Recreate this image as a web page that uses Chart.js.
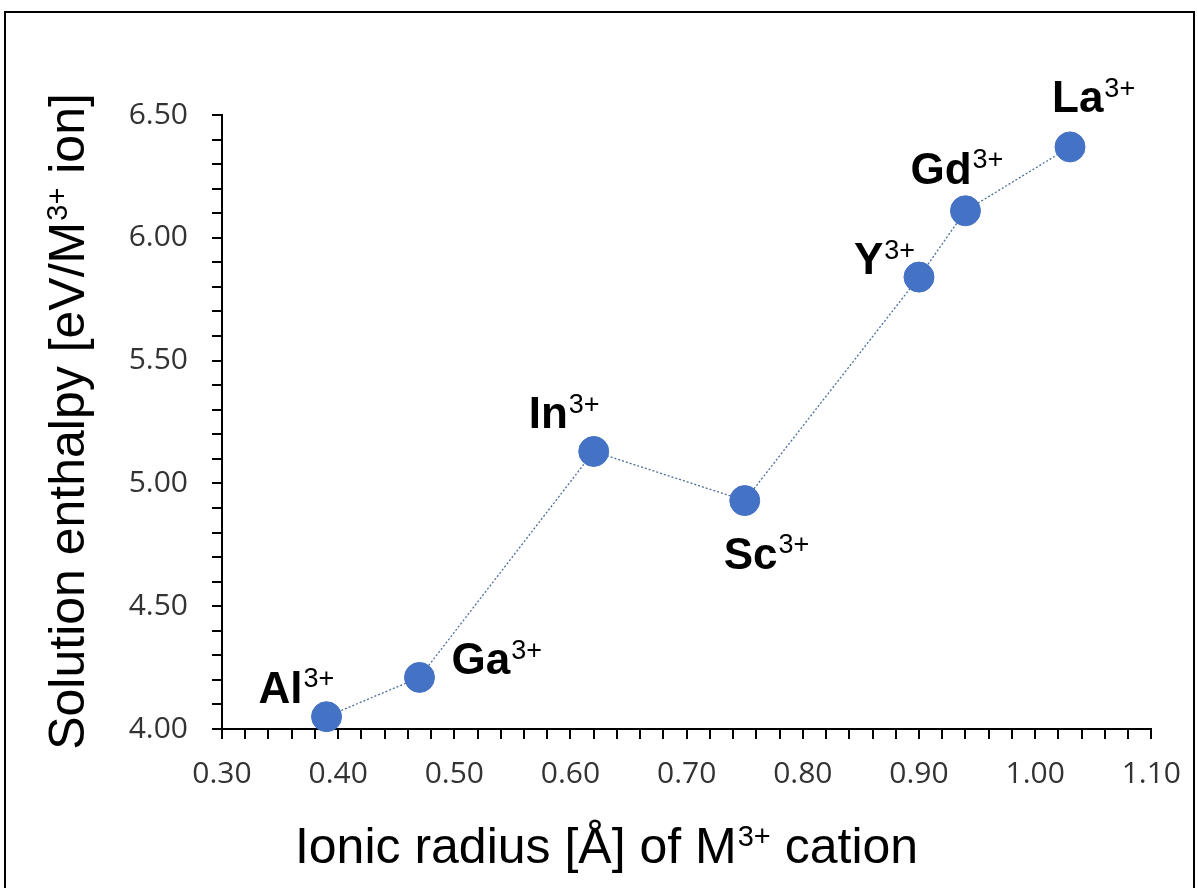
<!DOCTYPE html>
<html>
<head>
<meta charset="utf-8">
<script src="https://cdn.jsdelivr.net/npm/chart.js@4/dist/chart.umd.min.js"></script>
<style>
  html, body { margin: 0; padding: 0; background: #fff; }
  #wrap { width: 1198px; height: 888px; }
</style>
</head>
<body>
<div id="wrap"><canvas id="chart" width="1198" height="888"></canvas></div>
<script>
// data
const ions = ["Al", "Ga", "In", "Sc", "Y", "Gd", "La"];
const ionicRadius = [0.39, 0.47, 0.62, 0.75, 0.90, 0.94, 1.03];
const enthalpy = [4.05, 4.21, 5.13, 4.93, 5.84, 6.11, 6.37];
const charge = "3+";

// where each ion label sits relative to its point (left edge, baseline)
const labelOffsets = [[-68, -14], [32, -3], [-65, -23], [-21, 68], [-65, -3], [-55, -27], [-18, -35]];

const points = ionicRadius.map((x, i) => ({ x: x, y: enthalpy[i] }));

const mainFont = '"Liberation Sans", Arial, sans-serif';

// draws text made of runs, some of them superscript
function drawRuns(ctx, runs, x, y, size, supSize, bold, align) {
  const weight = bold ? "bold " : "";
  let total = 0;
  runs.forEach(r => {
    ctx.font = (r.sup ? supSize : weight + size) + "px " + mainFont;
    r.w = ctx.measureText(r.t).width;
    total += r.w;
  });
  let cx = align === "center" ? x - total / 2 : x;
  ctx.textAlign = "left";
  ctx.textBaseline = "alphabetic";
  runs.forEach(r => {
    ctx.font = (r.sup ? supSize : weight + size) + "px " + mainFont;
    ctx.fillText(r.t, cx, r.sup ? y - size * 0.35 : y);
    cx += r.w + (r.sup ? 0 : 1);
  });
}

const annotations = {
  id: "annotations",
  beforeDraw(chart) {
    const ctx = chart.ctx;
    ctx.save();
    ctx.fillStyle = "#fff";
    ctx.fillRect(0, 0, chart.width, chart.height);
    ctx.strokeStyle = "#000";
    ctx.lineWidth = 2;
    ctx.strokeRect(5, 12, 1189, 900);
    ctx.restore();
  },
  afterDraw(chart) {
    const ctx = chart.ctx;
    const xs = chart.scales.x, ys = chart.scales.y;
    ctx.save();
    ctx.fillStyle = "#000";

    // ion labels
    ions.forEach((name, i) => {
      const px = xs.getPixelForValue(ionicRadius[i]);
      const py = ys.getPixelForValue(enthalpy[i]);
      const off = labelOffsets[i];
      drawRuns(ctx, [{ t: name }, { t: charge, sup: true }], px + off[0], py + off[1], 44, 27, true, "left");
    });

    // x title
    drawRuns(ctx, [{ t: "Ionic radius [Å] of M" }, { t: charge, sup: true }, { t: " cation" }],
      606, 863, 50, 29, false, "center");

    // y title
    ctx.translate(84, (chart.chartArea.top + chart.chartArea.bottom) / 2);
    ctx.rotate(-Math.PI / 2);
    drawRuns(ctx, [{ t: "Solution enthalpy [eV/M" }, { t: charge, sup: true }, { t: " ion]" }],
      0, 0, 50, 29, false, "center");
    ctx.restore();
  }
};

const tickFont = { family: '"Open Sans", sans-serif', size: 30 };

new Chart(document.getElementById("chart"), {
  type: "scatter",
  data: {
    datasets: [{
      data: points,
      showLine: true,
      borderColor: "#4d6d9c",
      borderWidth: 1.3,
      borderDash: [2, 2],
      backgroundColor: "#4472C4",
      pointBackgroundColor: "#4472C4",
      pointBorderColor: "#4472C4",
      pointBorderWidth: 1,
      pointRadius: 15,
      pointHoverRadius: 15,
      clip: false
    }]
  },
  options: {
    responsive: false,
    animation: false,
    devicePixelRatio: 1,
    layout: { padding: { top: 115, right: 46, left: 0, bottom: 0 } },
    plugins: {
      legend: { display: false },
      tooltip: { enabled: false }
    },
    scales: {
      x: {
        type: "linear",
        min: 0.3,
        max: 1.1,
        afterFit(scale) { scale.height = 159; },
        border: { display: true, color: "#000", width: 2 },
        grid: { display: true, drawOnChartArea: false, drawTicks: true, tickLength: 10, color: "#000", lineWidth: 2 },
        ticks: {
          stepSize: 0.02,
          autoSkip: false,
          maxRotation: 0,
          padding: 17,
          color: "#333",
          font: tickFont,
          callback: v => (Math.round(v * 100) % 10 === 0 ? v.toFixed(2) : "")
        }
      },
      y: {
        type: "linear",
        min: 4,
        max: 6.5,
        afterFit(scale) { scale.width = 222; },
        border: { display: true, color: "#000", width: 2 },
        grid: { display: true, drawOnChartArea: false, drawTicks: true, tickLength: 10, color: "#000", lineWidth: 2 },
        ticks: {
          stepSize: 0.1,
          autoSkip: false,
          padding: 24,
          color: "#333",
          font: tickFont,
          callback: v => (Math.round(v * 10) % 5 === 0 ? v.toFixed(2) : "")
        }
      }
    }
  },
  plugins: [annotations]
});
</script>
</body>
</html>
